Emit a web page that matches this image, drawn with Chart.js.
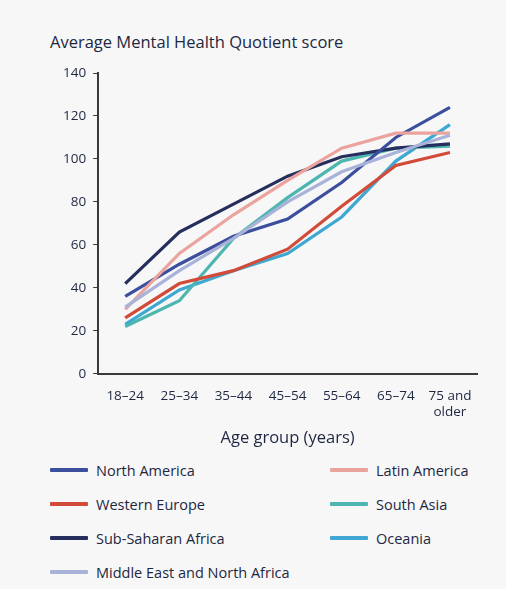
<!doctype html>
<html lang="en">
<head>
    <meta charset="utf-8">
    <title>Average Mental Health Quotient score</title>
    <script src="https://cdn.jsdelivr.net/npm/chart.js@4.4.0/dist/chart.umd.min.js"></script>
    <style>
        body { margin: 0; background: #f7f7f7; font-family: "Open Sans", sans-serif; color: #1e2742; }
        #wrap { position: relative; width: 506px; height: 589px; }
        #title { position: absolute; left: 50px; top: 30px; font-size: 16.5px; }
        #chartBox { position: absolute; left: 0; top: 0; width: 506px; height: 452px; }
        #legend { position: absolute; left: 50px; top: 458px; width: 440px; }
        .item { position: absolute; display: flex; align-items: center; font-size: 14.5px; height: 24px; }
        .swatch { width: 38px; height: 4px; margin-right: 8px; border-radius: 1px; }
    </style>
</head>
<body>
<div id="wrap">
    <div id="title">Average Mental Health Quotient score</div>
    <div id="chartBox"><canvas id="myChart"></canvas></div>
    <div id="legend"></div>
</div>
<script type="text/javascript">
    const ageGroups = ["18\u201324", "25\u201334", "35\u201344", "45\u201354", "55\u201364", "65\u201374", ["75 and", "older"]]
    const regions = ["North America", "Latin America", "Western Europe", "South Asia", "Sub-Saharan Africa", "Oceania", "Middle East and North Africa"]
    const northAmerica = [36, 51, 64, 72, 89, 110, 124]
    const latinAmerica = [30, 56, 74, 90, 105, 112, 112]
    const westernEurope = [26, 42, 48, 58, 78, 97, 103]
    const southAsia = [22, 34, 63, 82, 99, 105, 106]
    const subSaharanAfrica = [42, 66, 79, 92, 101, 105, 107]
    const oceania = [23, 39, 48, 56, 73, 99, 116]
    const middleEast = [31, 48, 63, 80, 94, 103, 111]
    const colors = ["#3c4f9f", "#eaa39d", "#d24b39", "#4db6b1", "#252e5c", "#3ea8d2", "#a9b3d9"]

    const seriesList = [northAmerica, latinAmerica, westernEurope, southAsia, subSaharanAfrica, oceania, middleEast]
    // drawing order: put the darker ones on top like the original
    const order = [3, 2, 1, 5, 4, 6, 0]

    const datasets = seriesList.map((values, i) => ({
        label: regions[i],
        data: values,
        borderColor: colors[i],
        backgroundColor: colors[i],
        borderWidth: 3.2,
        pointRadius: 0,
        tension: 0,
        order: order[i]
    }))

    const axisColor = "#3a3a3a"
    const tickFont = {family: "Open Sans", size: 13.5}

    const ctx = document.getElementById('myChart')
    const myChart = new Chart(ctx, {
        type: 'line',
        data: {labels: ageGroups, datasets: datasets},
        options: {
            responsive: true,
            maintainAspectRatio: false,
            animation: false,
            layout: {padding: {top: 73, right: 29, bottom: 2, left: 56}},
            plugins: {legend: {display: false}, tooltip: {enabled: false}},
            scales: {
                x: {
                    offset: true,
                    grid: {display: false},
                    border: {display: true, color: axisColor, width: 2},
                    ticks: {color: "#1e2742", font: tickFont, padding: 6, maxRotation: 0, autoSkip: false},
                    title: {display: true, text: "Age group (years)", color: "#1e2742", font: {family: "Open Sans", size: 16.5}, padding: {top: 2, bottom: 2}}
                },
                y: {
                    min: 0,
                    max: 140,
                    ticks: {stepSize: 20, color: "#1e2742", font: tickFont, padding: 7},
                    grid: {display: true, drawOnChartArea: false, drawTicks: true, tickLength: 5, color: axisColor},
                    border: {display: true, color: axisColor, width: 2}
                }
            }
        }
    })

    const legend = document.getElementById("legend")
    datasets.forEach((ds, i) => {
        const col = i % 2
        const row = Math.floor(i / 2)
        const el = document.createElement('div')
        el.className = "item"
        el.style.left = (col * 280) + "px"
        el.style.top = (row * 34) + "px"
        el.innerHTML = `<span class="swatch" style="background:${ds.borderColor}"></span>${ds.label}`
        legend.appendChild(el)
    })
</script>
</body>
</html>
